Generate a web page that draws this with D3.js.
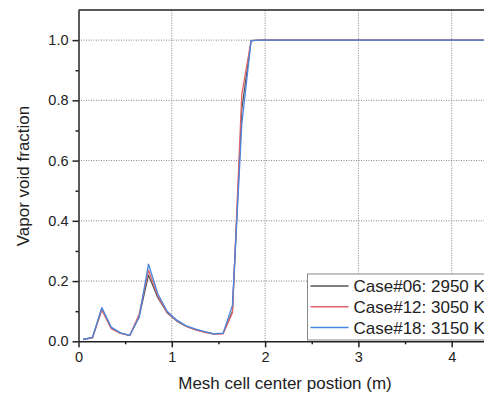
<!DOCTYPE html>
<html>
<head>
<meta charset="utf-8">
<script src="https://cdn.jsdelivr.net/npm/d3@7"></script>
<style>
  body { margin: 0; background: #fff; }
  text { font-family: "Liberation Sans", Arial, sans-serif; fill: #222; }
</style>
</head>
<body>
<div id="chart"></div>
<script>
// mesh cell centers (m)
var positions = [0.05, 0.15, 0.25, 0.35, 0.45, 0.55, 0.65, 0.75, 0.85, 0.95,
  1.05, 1.15, 1.25, 1.35, 1.45, 1.55, 1.65, 1.75, 1.85, 1.95,
  2.5, 3.0, 3.5, 4.0, 4.5, 4.95];

var case06 = [0.006, 0.012, 0.108, 0.045, 0.027, 0.020, 0.082, 0.220, 0.145, 0.095,
  0.068, 0.050, 0.039, 0.031, 0.025, 0.026, 0.100, 0.770, 0.998, 1.0,
  1.0, 1.0, 1.0, 1.0, 1.0, 1.0];
var case12 = [0.006, 0.012, 0.104, 0.042, 0.026, 0.019, 0.090, 0.236, 0.150, 0.097,
  0.069, 0.050, 0.039, 0.030, 0.024, 0.025, 0.095, 0.820, 0.998, 1.0,
  1.0, 1.0, 1.0, 1.0, 1.0, 1.0];
var case18 = [0.006, 0.013, 0.112, 0.047, 0.028, 0.020, 0.080, 0.256, 0.158, 0.100,
  0.071, 0.052, 0.041, 0.032, 0.025, 0.027, 0.120, 0.720, 0.998, 1.0,
  1.0, 1.0, 1.0, 1.0, 1.0, 1.0];

var seriesNames = ["Case#06: 2950 K", "Case#12: 3050 K", "Case#18: 3150 K"];
var seriesColors = ["#555555", "#e0656b", "#4a86e0"];
var seriesValues = [case06, case12, case18];

var xTicks = [0, 1, 2, 3, 4];
var yTicks = [0.0, 0.2, 0.4, 0.6, 0.8, 1.0];

var W = 484, H = 394;
var margin = {top: 10, left: 78.5, bottom: 52.7};

var svg = d3.select("#chart").append("svg")
  .attr("width", W).attr("height", H);

var xScale = d3.scaleLinear().domain([0, 5]).range([margin.left, margin.left + 5 * 93.3]);
var yScale = d3.scaleLinear().domain([0, 1.1]).range([H - margin.bottom, margin.top]);

var x0 = xScale(0), xR = xScale(5);
var yB = yScale(0), yT = yScale(1.1);

// grid
var grid = svg.append("g").attr("class", "grid");
grid.selectAll(".gx").data(xTicks.slice(1)).enter().append("line")
  .attr("x1", d => xScale(d)).attr("x2", d => xScale(d))
  .attr("y1", yB).attr("y2", yT)
  .attr("stroke", "#808080").attr("stroke-width", 1).attr("stroke-dasharray", "1,1.5");
grid.selectAll(".gy").data(yTicks.slice(1)).enter().append("line")
  .attr("x1", x0).attr("x2", xR)
  .attr("y1", d => yScale(d)).attr("y2", d => yScale(d))
  .attr("stroke", "#808080").attr("stroke-width", 1).attr("stroke-dasharray", "1,1.5");

// lines
var line = d3.line()
  .x((d, i) => xScale(positions[i]))
  .y(d => yScale(d));

svg.append("defs").append("clipPath").attr("id", "clip")
  .append("rect").attr("x", x0).attr("y", yT).attr("width", xR - x0).attr("height", yB - yT);

var plot = svg.append("g").attr("clip-path", "url(#clip)");
seriesValues.forEach(function(vals, k) {
  plot.append("path")
    .datum(vals)
    .attr("fill", "none")
    .attr("stroke", seriesColors[k])
    .attr("stroke-width", 1.3)
    .attr("stroke-linejoin", "round")
    .attr("d", line);
});

// axes
svg.append("g")
  .attr("transform", "translate(0," + yB + ")")
  .call(d3.axisBottom(xScale).tickValues(xTicks).tickFormat(d3.format("d")).tickSizeInner(6).tickSizeOuter(0).tickPadding(4));
svg.append("g")
  .attr("transform", "translate(0," + yB + ")")
  .call(d3.axisBottom(xScale).tickValues([0.5, 1.5, 2.5, 3.5, 4.5]).tickFormat("").tickSize(3))
  .select(".domain").remove();

svg.append("g")
  .attr("transform", "translate(" + x0 + ",0)")
  .call(d3.axisLeft(yScale).tickValues(yTicks).tickFormat(d3.format(".1f")).tickSizeInner(6).tickSizeOuter(0).tickPadding(4));
svg.append("g")
  .attr("transform", "translate(" + x0 + ",0)")
  .call(d3.axisLeft(yScale).tickValues([0.1, 0.3, 0.5, 0.7, 0.9]).tickFormat("").tickSize(3))
  .select(".domain").remove();

svg.selectAll(".tick text").style("font-size", "14.5px").attr("fill", "#222");
svg.selectAll(".domain, .tick line").attr("stroke", "#222").attr("stroke-width", 1.5);

// top border
svg.append("line").attr("x1", x0).attr("x2", xR).attr("y1", yT).attr("y2", yT)
  .attr("stroke", "#222").attr("stroke-width", 1.5);

// axis titles
svg.append("text")
  .attr("x", 285).attr("y", 389)
  .attr("text-anchor", "middle")
  .style("font-size", "17px")
  .text("Mesh cell center postion (m)");

svg.append("text")
  .attr("transform", "translate(29,176) rotate(-90)")
  .attr("text-anchor", "middle")
  .style("font-size", "17px")
  .text("Vapor void fraction");

// legend
var leg = svg.append("g").attr("transform", "translate(307.5,274)");
leg.append("rect").attr("x", 0).attr("y", 0).attr("width", 200).attr("height", 66)
  .attr("fill", "#fff").attr("stroke", "#888").attr("stroke-width", 1);
seriesNames.forEach(function(name, k) {
  var cy = 12 + k * 20.8;
  leg.append("line").attr("x1", 3).attr("x2", 41).attr("y1", cy).attr("y2", cy)
    .attr("stroke", seriesColors[k]).attr("stroke-width", 1.5);
  leg.append("text").attr("x", 46).attr("y", cy).attr("dy", "0.36em")
    .style("font-size", "17px").text(name);
});
</script>
</body>
</html>
